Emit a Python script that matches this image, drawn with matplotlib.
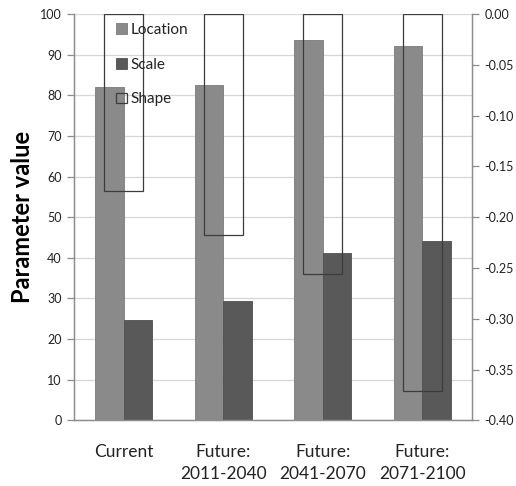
import numpy as np
import matplotlib.pyplot as plt
from matplotlib.ticker import FuncFormatter

categories = ['Current', 'Future:\n2011-2040', 'Future:\n2041-2070', 'Future:\n2071-2100']
location = [82.0, 82.6, 93.6, 92.2]
scale = [24.7, 29.3, 41.2, 44.2]
shape = [-0.174, -0.218, -0.256, -0.371]

plt.rcParams['font.family'] = ['Lato', 'DejaVu Sans']

fig = plt.figure(figsize=(5.16, 4.86), dpi=100)
ax = fig.add_axes([0.1434, 0.1352, 0.7713, 0.836])
ax2 = ax.twinx()

x = np.arange(len(categories))
w = 0.288
ax.bar(x - w / 2, location, width=w, color='#8a8a8a', edgecolor='#7a7a7a',
       linewidth=0.6, label='Location', zorder=2)
ax.bar(x + w / 2, scale, width=w, color='#595959', edgecolor='#505050',
       linewidth=0.6, label='Scale', zorder=2)
ax2.bar(x, shape, width=0.392, fill=False, edgecolor='#3c3c3c',
        linewidth=0.9, label='Shape')

ax.set_xlim(-0.5, len(categories) - 0.5)
ax.set_ylim(0, 100)
ax.set_yticks(np.arange(0, 101, 10))
ax2.set_ylim(-0.4, 0)
ax2.set_yticks(np.arange(-0.40, 0.001, 0.05))
ax2.yaxis.set_major_formatter(FuncFormatter(lambda v, p: f"{v:.2f}".replace('-0.00', '0.00')))

ax.grid(axis='y', color='#d6d6d6', linewidth=0.9, zorder=0)
ax.set_axisbelow(True)

for a in (ax, ax2):
    a.spines['top'].set_visible(False)
    for s in ('left', 'right', 'bottom'):
        a.spines[s].set_color('#8c8c8c')
        a.spines[s].set_linewidth(0.9)
    a.tick_params(axis='y', color='#8c8c8c', length=5, width=0.9,
                  labelsize=9, labelcolor='#222222', pad=4)

ax.set_xticks(x)
ax.set_xticklabels(categories, fontsize=12.5, color='#222222', linespacing=1.45)
ax.tick_params(axis='x', length=0, pad=17)
ax.set_ylabel('Parameter value', fontsize=17, fontweight='bold')
ax.yaxis.set_label_coords(-0.1, 0.5)

h1, l1 = ax.get_legend_handles_labels()
h2, l2 = ax2.get_legend_handles_labels()
ax2.legend(h1 + h2, l1 + l2, loc='upper left', bbox_to_anchor=(0.21, 0.968),
           bbox_transform=fig.transFigure, frameon=False, fontsize=11,
           handlelength=0.7, handleheight=0.7, handletextpad=0.25,
           labelspacing=1.35, borderpad=0, labelcolor='#222222')

fig.savefig('out.png', dpi=100)
